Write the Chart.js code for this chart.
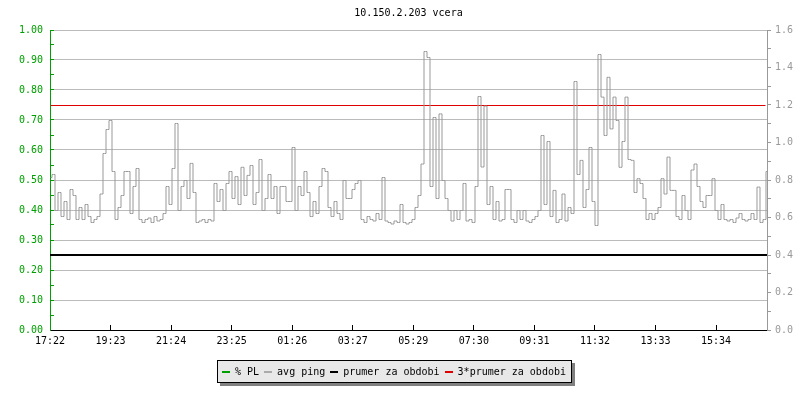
<!DOCTYPE html>
<html>
<head>
<meta charset="utf-8">
<script src="https://cdn.jsdelivr.net/npm/chart.js@4.4.1/dist/chart.umd.min.js"></script>
<style>
  body { margin: 0; background: #fff; }
  #wrap { position: relative; width: 800px; height: 400px; }
  #legend {
    position: absolute; left: 217px; top: 360px; width: 355px; height: 23px;
    box-sizing: border-box; border: 1px solid #000; background: #e8e8e8;
    box-shadow: 3px 3px 0 #808080;
    font: 10px 'DejaVu Sans Mono', monospace; color: #000;
    display: flex; align-items: center; padding-left: 4px; white-space: nowrap;
  }
  #legend span.sw { display: inline-block; width: 10px; height: 2px; margin-right: 5px; }
  #legend span.it { margin-right: 5px; }
</style>
</head>
<body>
<div id="wrap">
  <canvas id="myChart" width="800" height="400"></canvas>
  <div id="legend">
    <span class="sw" style="background:#00a000"></span><span class="it">% PL</span>
    <span class="sw" style="background:#aaaaaa"></span><span class="it">avg ping</span>
    <span class="sw" style="background:#000000"></span><span class="it">prumer za obdobi</span>
    <span class="sw" style="background:#e00000"></span><span class="it">3*prumer za obdobi</span>
  </div>
</div>
<script>
  // casove popisky osy x (krok cca 2h01m)
  const tickLabels = ['17:22', '19:23', '21:24', '23:25', '01:26', '03:27', '05:29', '07:30', '09:31', '11:32', '13:33', '15:34'];
  const tickStepMin = 121.1;
  const sampleStepMin = 6;
  const rangeMin = 1434;

  // avg ping, jeden vzorek za 6 minut
  const avgPing = [
    0.51, 0.52, 0.40, 0.46, 0.38, 0.43, 0.37, 0.47, 0.45, 0.37,
    0.41, 0.37, 0.42, 0.38, 0.36, 0.37, 0.38, 0.455, 0.59, 0.67,
    0.70, 0.53, 0.37, 0.41, 0.45, 0.53, 0.53, 0.39, 0.48, 0.54,
    0.37, 0.36, 0.37, 0.375, 0.36, 0.38, 0.365, 0.37, 0.39, 0.48,
    0.42, 0.54, 0.69, 0.40, 0.48, 0.50, 0.44, 0.557, 0.46, 0.36,
    0.365, 0.37, 0.36, 0.37, 0.365, 0.49, 0.43, 0.47, 0.40, 0.49,
    0.53, 0.44, 0.513, 0.42, 0.544, 0.45, 0.517, 0.55, 0.42, 0.46,
    0.57, 0.40, 0.44, 0.52, 0.44, 0.48, 0.39, 0.48, 0.48, 0.43,
    0.43, 0.61, 0.40, 0.48, 0.45, 0.53, 0.46, 0.38, 0.43, 0.39,
    0.48, 0.54, 0.53, 0.41, 0.38, 0.43, 0.39, 0.37, 0.50, 0.44,
    0.44, 0.47, 0.49, 0.50, 0.37, 0.36, 0.38, 0.37, 0.365, 0.39,
    0.37, 0.51, 0.365, 0.36, 0.355, 0.365, 0.36, 0.42, 0.36, 0.355,
    0.36, 0.37, 0.41, 0.45, 0.555, 0.93, 0.91, 0.48, 0.71, 0.44,
    0.722, 0.50, 0.44, 0.40, 0.365, 0.40, 0.37, 0.40, 0.49, 0.365,
    0.37, 0.36, 0.48, 0.78, 0.545, 0.748, 0.42, 0.48, 0.37, 0.43,
    0.365, 0.37, 0.47, 0.47, 0.37, 0.36, 0.40, 0.37, 0.40, 0.365,
    0.36, 0.37, 0.38, 0.40, 0.65, 0.42, 0.63, 0.38, 0.467, 0.36,
    0.37, 0.455, 0.365, 0.41, 0.39, 0.83, 0.52, 0.567, 0.41, 0.47,
    0.61, 0.43, 0.35, 0.92, 0.778, 0.65, 0.844, 0.672, 0.778, 0.70,
    0.544, 0.63, 0.778, 0.57, 0.567, 0.46, 0.506, 0.49, 0.44, 0.37,
    0.39, 0.37, 0.39, 0.41, 0.506, 0.455, 0.578, 0.467, 0.467, 0.38,
    0.37, 0.45, 0.40, 0.37, 0.535, 0.555, 0.48, 0.43, 0.41, 0.45,
    0.45, 0.506, 0.40, 0.37, 0.42, 0.37, 0.365, 0.37, 0.36, 0.375,
    0.39, 0.37, 0.365, 0.37, 0.39, 0.37, 0.478, 0.36, 0.37, 0.53
  ];

  const prumer = 0.25;
  const prumer3 = 0.75;

  const green = '#00a000';
  const gray = '#999999';

  Chart.defaults.font.family = "'DejaVu Sans Mono', monospace";
  Chart.defaults.font.size = 10;

  // 1px cary posunout o pul pixelu, at nejsou rozmazane
  const crispLines = {
    id: 'crispLines',
    beforeDatasetDraw(chart, args) {
      chart.ctx.save();
      if (args.index !== 1) chart.ctx.translate(0.5, 0.5);
    },
    afterDatasetDraw(chart) {
      chart.ctx.restore();
    }
  };

  let ctx = document.getElementById('myChart').getContext('2d');

  let pingChart = new Chart(ctx, {
    type: 'line',
    data: {
      datasets: [{
        label: 'avg ping',
        data: avgPing.map((v, i) => ({ x: i * sampleStepMin, y: v })),
        borderColor: gray,
        borderWidth: 1,
        pointRadius: 0,
        stepped: 'middle',
        order: 0,
      }, {
        label: 'prumer za obdobi',
        data: [{ x: 0, y: prumer }, { x: rangeMin, y: prumer }],
        borderColor: '#000000',
        borderWidth: 2,
        pointRadius: 0,
        order: 1,
      }, {
        label: '3*prumer za obdobi',
        data: [{ x: 0, y: prumer3 }, { x: rangeMin - 4, y: prumer3 }],
        borderColor: '#e00000',
        borderWidth: 1,
        pointRadius: 0,
        order: 1,
      }]
    },
    options: {
      responsive: false,
      animation: false,
      events: [],
      layout: { padding: 0 },
      plugins: {
        legend: { display: false },
        tooltip: { enabled: false },
        title: {
          display: true,
          text: '10.150.2.203 vcera',
          color: '#000',
          fullSize: false,
          font: { size: 10, weight: 'normal' },
          padding: { top: 7, bottom: 11 },
        }
      },
      scales: {
        x: {
          type: 'linear',
          min: 0,
          max: rangeMin,
          afterBuildTicks: s => { s.ticks = tickLabels.map((t, i) => ({ value: i * tickStepMin })); },
          afterFit: s => { s.height = 70; },
          ticks: {
            color: '#000',
            padding: 10,
            maxRotation: 0,
            autoSkip: false,
            callback: (v, i) => tickLabels[i],
          },
          grid: { drawOnChartArea: false, tickLength: -5, tickColor: '#000' },
          border: { color: '#000' },
        },
        y: {
          position: 'left',
          min: 0,
          max: 1,
          afterBuildTicks: s => { s.ticks = Array.from({ length: 21 }, (_, i) => ({ value: i * 0.05 })); },
          afterFit: s => { s.width = 50; },
          ticks: {
            color: green,
            padding: 11,
            autoSkip: false,
            callback: (v, i) => (i % 2 === 0 ? v.toFixed(2) : ''),
          },
          grid: {
            color: c => (c.index % 2 === 0 && c.index > 0 ? '#bbbbbb' : 'rgba(0,0,0,0)'),
            tickColor: green,
            tickLength: -4,
          },
          border: { color: green },
        },
        y1: {
          position: 'right',
          min: 0,
          max: 1.6,
          afterBuildTicks: s => { s.ticks = Array.from({ length: 17 }, (_, i) => ({ value: i * 0.1 })); },
          afterFit: s => { s.width = 33; },
          ticks: {
            color: gray,
            padding: 4,
            autoSkip: false,
            callback: (v, i) => (i % 2 === 0 ? v.toFixed(1) : ''),
          },
          grid: { drawOnChartArea: false, tickColor: gray, tickLength: 4 },
          border: { color: gray },
        }
      }
    },
    plugins: [crispLines]
  });
</script>
</body>
</html>
